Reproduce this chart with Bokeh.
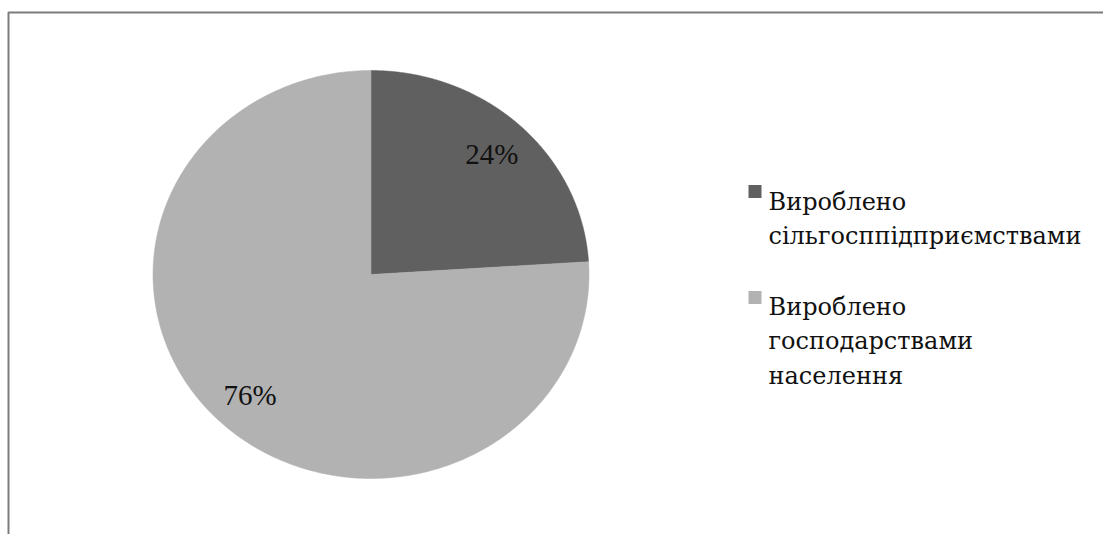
import numpy as np
from bokeh.plotting import figure
from bokeh.models import Range1d, BoxAnnotation
from bokeh.core.properties import value
from bokeh.embed import file_html
from bokeh.resources import INLINE

# ---- data ----
categories = ["Вироблено\nсільгосппідприємствами",
              "Вироблено\nгосподарствами\nнаселення"]
shares = [24, 76]
pct_labels = ["24%", "76%"]
colors = ["#606060", "#b2b2b2"]

W, H = 1103, 534
p = figure(width=W, height=H, output_backend="svg", toolbar_location=None,
           x_range=Range1d(0, W), y_range=Range1d(0, H),
           x_axis_location=None, y_axis_location=None,
           min_border=0, outline_line_color=None, background_fill_color="white")
p.grid.visible = False

def sy(y):  # screen y -> data y
    return H - y

# frame (cropped chart border)
p.add_layout(BoxAnnotation(left=8, right=W + 20, top=sy(12), bottom=-20,
                           fill_alpha=0, line_color="#7c7c7c", line_width=2,
                           line_alpha=1.0))

# pie (slightly elliptical, as in reference)
cx, cy = 370.5, sy(274)
rx, ry = 218, 204
total = float(sum(shares))
start = np.pi / 2
xs, ys, lx, ly = [], [], [], []
for s in shares:
    sweep = 2 * np.pi * s / total
    th = np.linspace(start, start - sweep, 300)
    xs.append(np.concatenate([[cx], cx + rx * np.cos(th)]))
    ys.append(np.concatenate([[cy], cy + ry * np.sin(th)]))
    mid = start - sweep / 2
    lx.append(cx + 0.81 * rx * np.cos(mid))
    ly.append(cy + 0.81 * ry * np.sin(mid))
    start -= sweep

p.patches(xs=xs, ys=ys, fill_color=colors, line_color=colors, line_width=0.5)
p.text(x=lx, y=ly, text=pct_labels, text_font=value("Liberation Serif"),
       text_font_size="29px", text_color="#111111",
       text_align="center", text_baseline="middle")

# legend
marker_y = [191, 297]
first_baseline = [201, 306]
line_step = 34.8
p.scatter(x=[754.5] * len(categories), y=[sy(v) for v in marker_y],
          marker="square", size=13, fill_color=colors, line_color=None)
tx, ty, tt = [], [], []
for i, lab in enumerate(categories):
    for j, line in enumerate(lab.split("\n")):
        tx.append(768)
        ty.append(sy(first_baseline[i] + j * line_step))
        tt.append(line)
p.text(x=tx, y=ty, text=tt, text_font=value("DejaVu Serif"),
       text_font_size="24px", text_color="#111111",
       text_align="left", text_baseline="alphabetic")

open("out.html", "w").write(file_html(p, INLINE))
